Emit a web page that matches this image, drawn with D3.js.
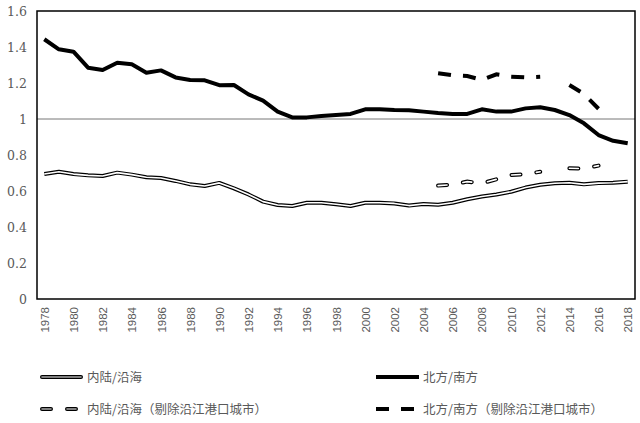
<!DOCTYPE html>
<html>
<head>
<meta charset="utf-8">
<script src="https://cdn.jsdelivr.net/npm/d3@7"></script>
<style>
  body { margin: 0; background: #fff; }
  svg { display: block; }
</style>
</head>
<body>
<svg width="640" height="423"></svg>
<script>
// years 1978..2018
var years = d3.range(1978, 2019);

// 内陆/沿海
var inland = [0.694, 0.707, 0.694, 0.687, 0.683, 0.702, 0.691, 0.676, 0.672, 0.656,
    0.637, 0.628, 0.645, 0.615, 0.581, 0.541, 0.522, 0.517, 0.535, 0.535,
    0.526, 0.517, 0.535, 0.535, 0.531, 0.519, 0.528, 0.524, 0.535, 0.554,
    0.569, 0.581, 0.596, 0.619, 0.635, 0.643, 0.646, 0.637, 0.644, 0.646, 0.652];

// 北方/南方
var north = [1.443, 1.387, 1.374, 1.285, 1.272, 1.313, 1.304, 1.257, 1.270, 1.231,
    1.217, 1.215, 1.188, 1.189, 1.137, 1.102, 1.041, 1.009, 1.009, 1.017,
    1.022, 1.028, 1.054, 1.054, 1.050, 1.048, 1.041, 1.033, 1.028, 1.028,
    1.054, 1.041, 1.041, 1.059, 1.065, 1.050, 1.022, 0.976, 0.911, 0.879, 0.865];

// excluding river port cities, 2005..2016 (2013 missing)
var exYears = d3.range(2005, 2017);
var inlandEx = [0.630, 0.636, 0.652, 0.643, 0.665, 0.689, 0.693, 0.707, null, 0.726, 0.724, 0.741];
var northEx = [1.254, 1.243, 1.239, 1.217, 1.248, 1.235, 1.231, 1.235, null, 1.189, 1.139, 1.057];

var yTicks = [0, 0.2, 0.4, 0.6, 0.8, 1, 1.2, 1.4, 1.6];
var xTicks = years.filter(function(d) { return d % 2 == 0; });

var legendNames = ["内陆/沿海", "北方/南方", "内陆/沿海（剔除沿江港口城市）", "北方/南方（剔除沿江港口城市）"];

var svg = d3.select("svg"),
    plotLeft = 37, plotRight = 635, plotTop = 11, plotBottom = 299;

var x = d3.scalePoint()
    .domain(years)
    .range([plotLeft, plotRight])
    .padding(0.5);

var y = d3.scaleLinear()
    .domain([0, 1.6])
    .range([plotBottom, plotTop]);

var labelColor = "#595959";

// y axis labels
var yAxis = svg.append("g")
    .attr("transform", "translate(" + plotLeft + ",0)")
    .call(d3.axisLeft(y).tickValues(yTicks).tickSize(0).tickPadding(10).tickFormat(d3.format("~g")));
yAxis.select(".domain").remove();
yAxis.selectAll("text")
    .attr("fill", labelColor)
    .style("font-family", "DejaVu Serif")
    .style("font-size", "12.5px");

// x axis labels, rotated
var xAxis = svg.append("g")
    .attr("transform", "translate(0," + plotBottom + ")")
    .call(d3.axisBottom(x).tickValues(xTicks).tickSize(0));
xAxis.select(".domain").remove();
xAxis.selectAll("text")
    .attr("fill", labelColor)
    .style("font-family", "Liberation Sans")
    .style("font-size", "11.5px")
    .attr("text-anchor", "end")
    .attr("transform", "rotate(-90)")
    .attr("x", -8)
    .attr("y", 0)
    .attr("dy", "0.35em");

// reference line at 1
svg.append("line")
    .attr("x1", plotLeft).attr("x2", plotRight)
    .attr("y1", y(1)).attr("y2", y(1))
    .attr("stroke", "#777")
    .attr("stroke-width", 1);

var line = d3.line()
    .defined(function(d) { return d[1] != null; })
    .x(function(d) { return x(d[0]); })
    .y(function(d) { return y(d[1]); });

function pairs(xs, vs) {
    return xs.map(function(d, i) { return [d, vs[i]]; });
}

var lines = svg.append("g").attr("fill", "none");

// 内陆/沿海: outlined light line
lines.append("path")
    .attr("d", line(pairs(years, inland)))
    .attr("stroke", "#000").attr("stroke-width", 4).attr("stroke-linejoin", "round");
lines.append("path")
    .attr("d", line(pairs(years, inland)))
    .attr("stroke", "#fff").attr("stroke-width", 1.6).attr("stroke-linejoin", "round");

// 内陆/沿海 excluding
lines.append("path")
    .attr("d", line(pairs(exYears, inlandEx)))
    .attr("stroke", "#000").attr("stroke-width", 4)
    .attr("stroke-linecap", "round").attr("stroke-dasharray", "9,16");
lines.append("path")
    .attr("d", line(pairs(exYears, inlandEx)))
    .attr("stroke", "#fff").attr("stroke-width", 1.6)
    .attr("stroke-linecap", "round").attr("stroke-dasharray", "9,16");

// 北方/南方
lines.append("path")
    .attr("d", line(pairs(years, north)))
    .attr("stroke", "#000").attr("stroke-width", 4).attr("stroke-linejoin", "round");

// 北方/南方 excluding
lines.append("path")
    .attr("d", line(pairs(exYears, northEx)))
    .attr("stroke", "#000").attr("stroke-width", 4)
    .attr("stroke-dasharray", "13,12");

// plot border
svg.append("rect")
    .attr("x", plotLeft).attr("y", plotTop)
    .attr("width", plotRight - plotLeft).attr("height", plotBottom - plotTop)
    .attr("fill", "none")
    .attr("stroke", "#000")
    .attr("stroke-width", 1.5);

// legend
var legendPos = [[40, 377], [376, 377], [40, 409], [376, 409]];
var legend = svg.append("g");

legendNames.forEach(function(name, i) {
    var p = legendPos[i];
    var g = legend.append("g").attr("transform", "translate(" + p[0] + "," + p[1] + ")");
    var outlined = (i % 2 == 0);
    var dash = i >= 2 ? (outlined ? "9,16" : "13,12") : null;
    var len = 43;
    g.append("line")
        .attr("x1", outlined ? 2 : 0).attr("x2", outlined ? len - 2 : len)
        .attr("stroke", "#000").attr("stroke-width", 4)
        .attr("stroke-linecap", outlined ? "round" : "butt")
        .attr("stroke-dasharray", dash);
    if (outlined) {
        g.append("line")
            .attr("x1", 2).attr("x2", len - 2)
            .attr("stroke", "#aaa").attr("stroke-width", 1.6)
            .attr("stroke-linecap", "round")
            .attr("stroke-dasharray", dash);
    }
    g.append("text")
        .attr("x", 47)
        .attr("y", 4.5)
        .attr("fill", labelColor)
        .style("font-family", "Noto Sans CJK SC")
        .style("font-size", "12.5px")
        .text(name);
});
</script>
</body>
</html>
